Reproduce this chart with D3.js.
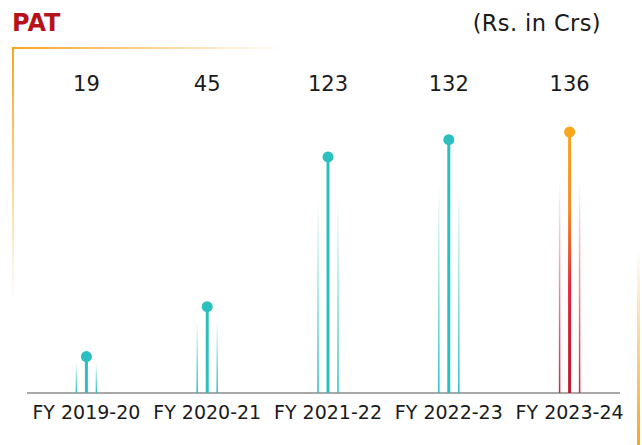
<!DOCTYPE html>
<html>
<head>
<meta charset="utf-8">
<script src="https://cdn.jsdelivr.net/npm/d3@7"></script>
<style>
  html, body { margin: 0; padding: 0; background: #fff; }
  svg { display: block; font-family: "DejaVu Sans", "Noto Sans", sans-serif; }
</style>
</head>
<body>
<div id="chart"></div>
<script>
const categories = ['FY 2019-20', 'FY 2020-21', 'FY 2021-22', 'FY 2022-23', 'FY 2023-24'];
const values = [19, 45, 123, 132, 136];
const valueLabels = ['19', '45', '123', '132', '136'];
const highlight = [false, false, false, false, true];

const width = 642;
const height = 445;
const baseY = 393;

const teal = '#2bbfc0';
const orange = '#f7a61e';

const svg = d3.select('#chart')
  .append('svg')
  .attr('width', width)
  .attr('height', height);

const defs = svg.append('defs');

// vertical fade gradients (top transparent -> bottom solid)
function fade(id, color) {
  const g = defs.append('linearGradient')
    .attr('id', id)
    .attr('x1', 0).attr('y1', 0).attr('x2', 0).attr('y2', 1);
  g.append('stop').attr('offset', 0).attr('stop-color', color).attr('stop-opacity', 0);
  g.append('stop').attr('offset', 0.6).attr('stop-color', color).attr('stop-opacity', 0.6);
  g.append('stop').attr('offset', 1).attr('stop-color', color).attr('stop-opacity', 1);
}
fade('fadeTeal', teal);
fade('fadeRed', '#d42436');

const hot = defs.append('linearGradient')
  .attr('id', 'hotStem')
  .attr('x1', 0).attr('y1', 0).attr('x2', 0).attr('y2', 1);
hot.append('stop').attr('offset', 0).attr('stop-color', '#f8a51c');
hot.append('stop').attr('offset', 0.3).attr('stop-color', '#f58a22');
hot.append('stop').attr('offset', 0.6).attr('stop-color', '#e8213a');
hot.append('stop').attr('offset', 1).attr('stop-color', '#b81e2b');

// frame gradients
const topEdge = defs.append('linearGradient').attr('id', 'topEdge')
  .attr('x1', 0).attr('y1', 0).attr('x2', 1).attr('y2', 0);
topEdge.append('stop').attr('offset', 0).attr('stop-color', orange).attr('stop-opacity', 1);
topEdge.append('stop').attr('offset', 1).attr('stop-color', orange).attr('stop-opacity', 0);

const leftEdge = defs.append('linearGradient').attr('id', 'leftEdge')
  .attr('x1', 0).attr('y1', 0).attr('x2', 0).attr('y2', 1);
leftEdge.append('stop').attr('offset', 0).attr('stop-color', orange).attr('stop-opacity', 1);
leftEdge.append('stop').attr('offset', 1).attr('stop-color', orange).attr('stop-opacity', 0);

const rightEdge = defs.append('linearGradient').attr('id', 'rightEdge')
  .attr('x1', 0).attr('y1', 0).attr('x2', 0).attr('y2', 1);
rightEdge.append('stop').attr('offset', 0).attr('stop-color', orange).attr('stop-opacity', 0);
rightEdge.append('stop').attr('offset', 1).attr('stop-color', orange).attr('stop-opacity', 1);

// decorative frame
svg.append('rect').attr('x', 12).attr('y', 47).attr('width', 270).attr('height', 2).attr('fill', 'url(#topEdge)');
svg.append('rect').attr('x', 12).attr('y', 47).attr('width', 2).attr('height', 255).attr('fill', 'url(#leftEdge)');
svg.append('rect').attr('x', 637).attr('y', 250).attr('width', 3).attr('height', 195).attr('fill', 'url(#rightEdge)');

// titles
svg.append('text')
  .attr('x', 12).attr('y', 31)
  .style('font-size', '24px').style('font-weight', 700)
  .style('fill', '#b5121b')
  .text('PAT');

svg.append('text')
  .attr('x', 601).attr('y', 31)
  .attr('text-anchor', 'end')
  .style('font-size', '22.5px')
  .style('letter-spacing', '0.4px')
  .style('fill', '#1a1a1a')
  .text('(Rs. in Crs)');

const x = d3.scaleBand()
  .domain(categories)
  .range([26, 630])
  .padding(0);

const y = d3.scaleLinear()
  .domain([0, 136])
  .range([baseY, 132]);

const cx = d => x(d) + x.bandwidth() / 2;

// baseline
svg.append('line')
  .attr('x1', 27).attr('x2', 620)
  .attr('y1', baseY).attr('y2', baseY)
  .attr('stroke', '#a8a8a8').attr('stroke-width', 2);

// x axis labels
const axis = svg.append('g')
  .attr('transform', `translate(0,${baseY})`)
  .call(d3.axisBottom(x).tickSize(0).tickSizeOuter(0).tickPadding(13));
axis.select('.domain').remove();
axis.selectAll('text')
  .style('font-size', '19px')
  .style('font-family', '"DejaVu Sans", sans-serif')
  .style('fill', '#1a1a1a');

const rows = categories.map((c, i) => ({ c, v: values[i], label: valueLabels[i], hot: highlight[i] }));

const g = svg.append('g');

// faded side lines
[-10, 10].forEach(off => {
  g.selectAll(null)
    .data(rows)
    .join('rect')
    .attr('x', d => cx(d.c) + off - 0.75)
    .attr('y', d => baseY - (baseY - y(d.v)) * 0.82)
    .attr('width', 1.5)
    .attr('height', d => (baseY - y(d.v)) * 0.82)
    .attr('fill', d => d.hot ? 'url(#fadeRed)' : 'url(#fadeTeal)');
});

// stems
g.selectAll('.stem')
  .data(rows)
  .join('rect')
  .attr('class', 'stem')
  .attr('x', d => cx(d.c) - 1.5)
  .attr('y', d => y(d.v))
  .attr('width', 3)
  .attr('height', d => baseY - y(d.v))
  .attr('fill', d => d.hot ? 'url(#hotStem)' : teal);

// heads
g.selectAll('circle')
  .data(rows)
  .join('circle')
  .attr('cx', d => cx(d.c))
  .attr('cy', d => y(d.v))
  .attr('r', 5.5)
  .attr('fill', d => d.hot ? orange : teal);

// value labels
g.selectAll('.val')
  .data(rows)
  .join('text')
  .attr('class', 'val')
  .attr('x', d => cx(d.c))
  .attr('y', 91)
  .attr('text-anchor', 'middle')
  .style('font-size', '21px')
  .style('fill', '#1a1a1a')
  .text(d => d.label);
</script>
</body>
</html>
